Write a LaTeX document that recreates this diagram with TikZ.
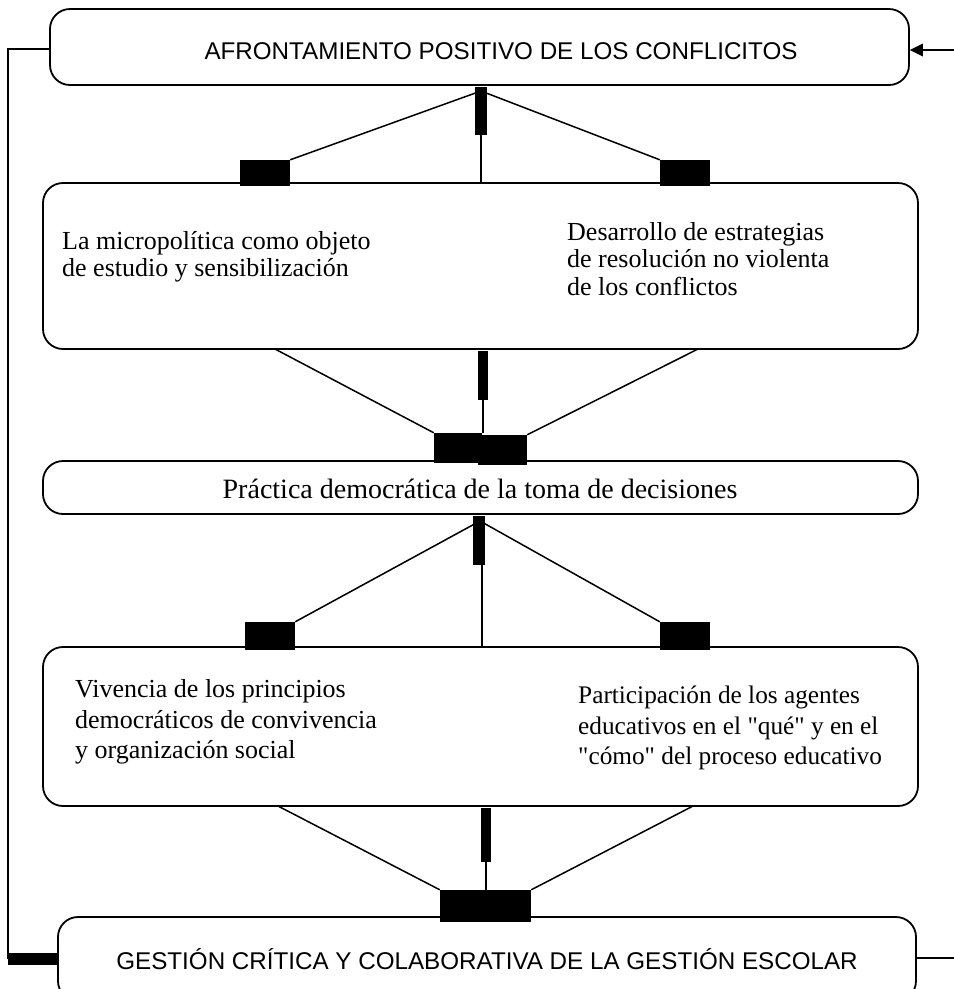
\documentclass[tikz,border=0pt]{standalone}
\usepackage{fontspec}
\setmainfont{Liberation Serif}
\newfontfamily\arialf{Liberation Sans}
\usetikzlibrary{arrows.meta,calc}
\tikzset{
  rbox/.style={draw, line width=1.8pt, rounded corners=20pt, inner sep=0pt},
  blk/.style={fill=black, draw=none, inner sep=0pt},
  conn/.style={line width=1.5pt},
  vline/.style={line width=1.1pt},
  capstext/.style={font=\arialf\fontsize{24.2}{28}\selectfont, inner sep=0pt},
  sertext/.style={font=\fontsize{26}{27.5}\selectfont, align=left, inner sep=0pt},
  sertextb/.style={font=\fontsize{26}{30.5}\selectfont, align=left, inner sep=0pt},
}
\begin{document}
\begin{tikzpicture}[x=1pt,y=-1pt]
\useasboundingbox (0,0) rectangle (954,989);
\clip (0,0) rectangle (954,989);
% boxes
\node[rbox, minimum width=859pt, minimum height=76pt] (box1) at (479.5,47) {};
\node[rbox, minimum width=875pt, minimum height=166pt] (box2) at (480.5,266) {};
\node[rbox, minimum width=875pt, minimum height=53pt] (box3) at (480.5,487.5) {};
\node[rbox, minimum width=875pt, minimum height=159pt] (box4) at (480.5,726.5) {};
\node[rbox, minimum width=858pt, minimum height=84pt] (box5) at (487,959) {};
% texts
\node[capstext] (t1) at (501,51) {AFRONTAMIENTO POSITIVO DE LOS CONFLICITOS};
\node[sertext, anchor=west] (t2a) at (62,257) {La micropolítica como objeto\\de estudio y sensibilización};
\node[sertext, anchor=west] (t2b) at (567,259) {Desarrollo de estrategias\\de resolución no violenta\\de los conflictos};
\node[sertext, font=\fontsize{28}{30}\selectfont] (t3) at (480,489) {Práctica democrática de la toma de decisiones};
\node[sertextb, anchor=west] (t4a) at (75,722) {Vivencia de los principios\\democráticos de convivencia\\y organización social};
\node[sertextb, anchor=west, font=\fontsize{25.3}{30.5}\selectfont] (t4b) at (578,728) {Participación de los agentes\\educativos en el \textquotedbl qué\textquotedbl{} y en el\\\textquotedbl cómo\textquotedbl{} del proceso educativo};
\node[capstext] (t5) at (487,959) {GESTIÓN CRÍTICA Y COLABORATIVA DE LA GESTIÓN ESCOLAR};
% ---- section 1: box1 -> box2
\node[blk, minimum width=12pt, minimum height=48pt] (bar1) at (481,111) {};
\node[blk, minimum width=50pt, minimum height=26pt] (b1l) at (265,173) {};
\node[blk, minimum width=50pt, minimum height=26pt] (b1r) at (685,173) {};
\coordinate (c1) at (481,91);
\draw[vline] (bar1.south) -- (bar1.south |- box2.north);
\draw[conn] (c1) -- (b1l.north east);
\draw[conn] (c1) -- (b1r.north west);
% ---- section 2: box2 -> box3
\node[blk, minimum width=10pt, minimum height=49pt] (bar2) at (483,375.5) {};
\node[blk, minimum width=48pt, minimum height=30pt] (b2l) at (458,448) {};
\node[blk, minimum width=49pt, minimum height=30pt] (b2r) at (502.5,450) {};
\coordinate (c2l) at (275,349);
\coordinate (c2r) at (698,349);
\draw[vline] (bar2.south) -- (bar2.south |- b2l.north);
\draw[conn] (c2l) -- (b2l.north west);
\draw[conn] (c2r) -- (b2r.north east);
% ---- section 3: box3 -> box4
\node[blk, minimum width=12pt, minimum height=49pt] (bar3) at (479,540.5) {};
\node[blk, minimum width=50pt, minimum height=28pt] (b3l) at (270,636) {};
\node[blk, minimum width=50pt, minimum height=28pt] (b3r) at (685,636) {};
\coordinate (c3) at (480,521);
\coordinate (v3) at (482,565);
\draw[vline] (v3) -- (v3 |- box4.north);
\draw[conn] (c3) -- (b3l.north east);
\draw[conn] (c3) -- (b3r.north west);
% ---- section 4: box4 -> box5
\node[blk, minimum width=10pt, minimum height=54pt] (bar4) at (486,835) {};
\node[blk, minimum width=46pt, minimum height=32pt] (b4l) at (463,906) {};
\node[blk, minimum width=45pt, minimum height=32pt] (b4r) at (508.5,906) {};
\coordinate (c4l) at (278,806);
\coordinate (c4r) at (693,806);
\draw[vline] (bar4.south) -- (bar4.south |- b4l.north);
\draw[conn] (c4l) -- (b4l.north west);
\draw[conn] (c4r) -- (b4r.north east);
% ---- feedback loop
\coordinate (lt) at (8,49);
\coordinate (lb) at (8,959);
\coordinate (rin) at (954,50);
\coordinate (rout) at (954,958);
\draw[conn] (box1.west |- lt) -- (lt) -- (lb);
\draw[line width=12pt] (7.5,959) -- (box5.west);
\fill (rin -| box1.east) -- ++(13,-6.5) -- ++(0,13) -- cycle;
\draw[conn] (rin) -- ($(rin -| box1.east)+(12,0)$);
\draw[conn] (rout -| box5.east) -- (rout);
\end{tikzpicture}
\end{document}
